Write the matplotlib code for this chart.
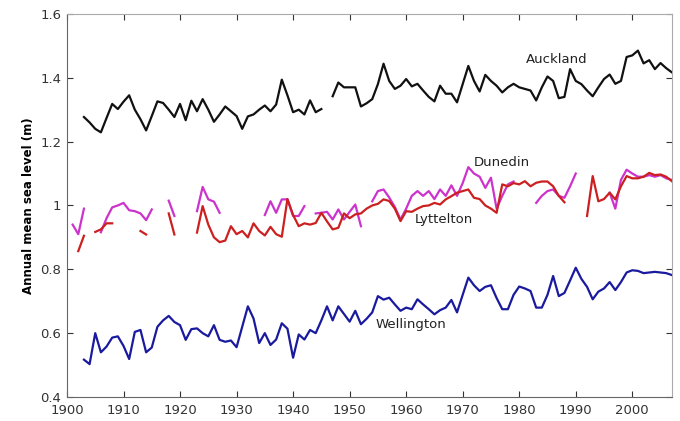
import numpy as np
import matplotlib
matplotlib.use("Agg")
import matplotlib.pyplot as plt

nan = np.nan

# annual mean sea level (m), one value per year from the start year
auckland_start = 1903
auckland = [1.277, 1.26, 1.24, 1.229, 1.274, 1.318, 1.302, 1.325, 1.345, 1.30,
            1.27, 1.235, 1.28, 1.326, 1.321, 1.30, 1.277, 1.318, 1.267, 1.328,
            1.295, 1.333, 1.30, 1.262, 1.285, 1.31, 1.295, 1.28, 1.24, 1.279,
            1.285, 1.30, 1.313, 1.295, 1.316, 1.394, 1.345, 1.292, 1.30, 1.285,
            1.329, 1.292, 1.302, nan, 1.342, 1.385, 1.37, 1.37, 1.37, 1.31,
            1.32, 1.333, 1.38, 1.444, 1.39, 1.365, 1.375, 1.396, 1.373, 1.381,
            1.36, 1.34, 1.326, 1.375, 1.35, 1.35, 1.323, 1.38, 1.437, 1.39,
            1.357, 1.409, 1.39, 1.375, 1.354, 1.37, 1.381, 1.37, 1.365, 1.36,
            1.329, 1.37, 1.404, 1.39, 1.336, 1.34, 1.427, 1.39, 1.38, 1.36,
            1.342, 1.37, 1.396, 1.41, 1.381, 1.39, 1.465, 1.47, 1.485, 1.445,
            1.455, 1.427, 1.446, 1.43, 1.417]

dunedin_start = 1901
dunedin = [0.94, 0.91, 0.99, nan, nan, 0.916, 0.96, 0.994, 1.0, 1.008,
           0.985, 0.982, 0.975, 0.954, 0.9875, nan, nan, 1.015, 0.967, nan,
           nan, nan, 0.982, 1.058, 1.019, 1.012, 0.977, nan, nan, nan,
           nan, nan, nan, nan, 0.97, 1.013, 0.977, 1.019, 1.019, 0.967,
           0.967, 0.998, nan, 0.975, 0.977, 0.98, 0.956, 0.9875, 0.956, 0.98,
           1.003, 0.935, nan, 1.013, 1.045, 1.05, 1.025, 0.995, 0.956, 0.99,
           1.03, 1.045, 1.03, 1.045, 1.02, 1.05, 1.03, 1.063, 1.03, 1.07,
           1.12, 1.10, 1.09, 1.055, 1.087, 0.99, 1.03, 1.066, 1.075, nan,
           nan, nan, 1.008, 1.03, 1.045, 1.05, 1.03, 1.024, 1.06, 1.10,
           nan, nan, nan, nan, nan, 1.04, 0.99, 1.08, 1.112, 1.10,
           1.09, 1.09, 1.095, 1.09, 1.095, 1.085, 1.08]

lyttelton_start = 1902
lyttelton = [0.857, 0.905, nan, 0.917, 0.925, 0.944, 0.944, nan, nan, nan,
             nan, 0.92, 0.909, nan, nan, nan, 0.975, 0.909, nan, nan,
             nan, 0.915, 0.998, 0.94, 0.90, 0.885, 0.89, 0.935, 0.91, 0.92,
             0.90, 0.944, 0.92, 0.906, 0.933, 0.91, 0.902, 1.02, 0.97, 0.935,
             0.944, 0.94, 0.945, 0.977, 0.95, 0.925, 0.93, 0.975, 0.96, 0.972,
             0.975, 0.99, 1.0, 1.005, 1.019, 1.014, 0.99, 0.951, 0.982, 0.98,
             0.99, 0.998, 1.0, 1.008, 1.003, 1.019, 1.029, 1.04, 1.045, 1.05,
             1.024, 1.02, 1.0, 0.99, 0.977, 1.066, 1.06, 1.07, 1.066, 1.076,
             1.06, 1.071, 1.075, 1.075, 1.06, 1.03, 1.01, nan, nan, nan,
             0.967, 1.092, 1.013, 1.02, 1.04, 1.019, 1.06, 1.092, 1.085, 1.085,
             1.09, 1.102, 1.095, 1.097, 1.09, 1.076]

wellington_start = 1903
wellington = [0.517, 0.503, 0.60, 0.54, 0.558, 0.586, 0.59, 0.56, 0.519, 0.604,
              0.61, 0.54, 0.555, 0.62, 0.64, 0.654, 0.635, 0.625, 0.579, 0.6125,
              0.615, 0.60, 0.59, 0.625, 0.579, 0.573, 0.577, 0.556, 0.62, 0.684,
              0.646, 0.569, 0.60, 0.563, 0.58, 0.631, 0.614, 0.523, 0.596, 0.58,
              0.61, 0.60, 0.64, 0.684, 0.64, 0.684, 0.66, 0.636, 0.67, 0.628,
              0.645, 0.665, 0.716, 0.705, 0.711, 0.69, 0.67, 0.68, 0.675, 0.706,
              0.69, 0.675, 0.659, 0.672, 0.68, 0.704, 0.665, 0.72, 0.774, 0.75,
              0.732, 0.745, 0.75, 0.71, 0.675, 0.675, 0.72, 0.746, 0.74, 0.732,
              0.68, 0.68, 0.72, 0.779, 0.716, 0.726, 0.765, 0.805, 0.77, 0.745,
              0.706, 0.73, 0.74, 0.76, 0.735, 0.76, 0.79, 0.797, 0.795, 0.788,
              0.79, 0.792, 0.79, 0.788, 0.782]

x_ticks = [1900, 1910, 1920, 1930, 1940, 1950, 1960, 1970, 1980, 1990, 2000]
y_ticks = [0.4, 0.6, 0.8, 1.0, 1.2, 1.4, 1.6]
y_tick_labels = ['0.4', '0.6', '0.8', '1', '1.2', '1.4', '1.6']

series = [
    ('Auckland', auckland_start, auckland, '#111111', 1986.6, 1.456),
    ('Dunedin', dunedin_start, dunedin, '#cc33cc', 1976.9, 1.134),
    ('Lyttelton', lyttelton_start, lyttelton, '#cc2020', 1966.7, 0.956),
    ('Wellington', wellington_start, wellington, '#1a1a9e', 1960.9, 0.628),
]

fig = plt.figure(figsize=(6.8, 4.21), dpi=100)
ax = fig.add_axes([0.0985, 0.057, 0.8895, 0.91])

for name, start, vals, col, lx, ly in series:
    yrs = np.arange(start, start + len(vals))
    ax.plot(yrs, vals, color=col, lw=1.6)
    ax.text(lx, ly, name, fontsize=9.5, color='#222222', ha='center', va='center')

ax.set_xlim(1900, 2007)
ax.set_ylim(0.4, 1.6)
ax.set_xticks(x_ticks)
ax.set_yticks(y_ticks)
ax.set_yticklabels(y_tick_labels)
ax.tick_params(direction='in', top=True, right=True, labelsize=9.5, length=4, colors='#333333')
ax.tick_params(axis='x', pad=5)
ax.tick_params(axis='y', pad=4)
ax.set_ylabel('Annual mean sea level (m)', fontsize=8.5, fontweight='bold', labelpad=4)
for s in ['top', 'right']:
    ax.spines[s].set_color('#aaaaaa')
for s in ['left', 'bottom']:
    ax.spines[s].set_color('#666666')

fig.savefig('out.png', dpi=100)
